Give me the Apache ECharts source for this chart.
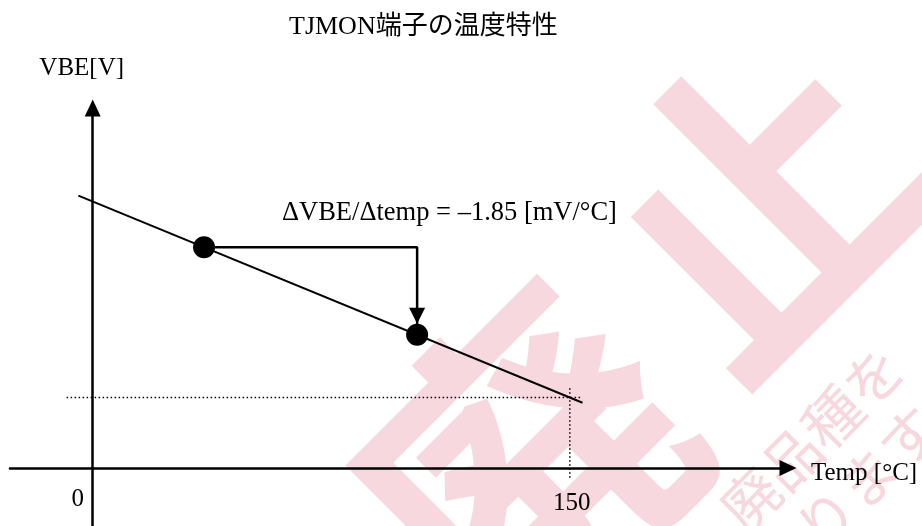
<!DOCTYPE html>
<html>
<head>
<meta charset="utf-8">
<script src="https://cdn.jsdelivr.net/npm/echarts@6/dist/echarts.min.js"></script>
<style>
  html, body { margin: 0; padding: 0; background: #fff; }
  #chart { width: 922px; height: 526px; }
</style>
</head>
<body>
<div id="chart"></div>
<script>
// Texts
const titleText = 'TJMON端子の温度特性';
const xName = 'Temp [°C]';
const yName = 'VBE[V]';
const xTickLabels = [0, 150];

// VBE temperature coefficient (mV/°C)
const slopeMvPerC = -1.85;

// VBE characteristic line (V) against temperature (°C)
const lineTemps = [-4.5, 154];
const lineVbe = [0.3858, 0.0926];

// Two sample points on the characteristic
const pointTemps = [35, 102];
const pointVbe = [0.3128, 0.1888];

// Dotted guides through the 150 °C point
const refTemp = 150;
const refVbe = 0.100;
const hGuideTemps = [-8.2, 154];
const vGuideVbe = [0.113, -0.017];

// Obsolete-product stamp
const stampChars = ['廃', '止'];
const stampLines = ['廃品種を', 'ります'];

const serif = "'Liberation Serif', 'Times New Roman', serif";
const titleFont = "'Liberation Serif', 'Noto Sans CJK JP', sans-serif";
const ink = '#000';
const stampColor = '#f8d8df';

const slopeLabel = 'ΔVBE/Δtemp = ' + (slopeMvPerC < 0 ? '–' : '') +
  Math.abs(slopeMvPerC).toFixed(2) + ' [mV/°C]';

const lineData = lineTemps.map((t, i) => [t, lineVbe[i]]);
const pointData = pointTemps.map((t, i) => [t, pointVbe[i]]);
const stepData = [
  [pointTemps[0], pointVbe[0]],
  [pointTemps[1], pointVbe[0]],
  [pointTemps[1], pointVbe[1]]
];
const hGuide = hGuideTemps.map(t => [t, refVbe]);
const vGuide = vGuideVbe.map(v => [refTemp, v]);

const chart = echarts.init(document.getElementById('chart'), null, { renderer: 'canvas' });

const plainLine = (data, style) => ({
  type: 'line',
  data: data,
  symbol: 'none',
  silent: true,
  animation: false,
  lineStyle: style,
  z: 3
});

const stampText = (text, x, y, font) => ({
  type: 'text', x: x, y: y, rotation: Math.PI / 4, z: -1, silent: true,
  style: { text: text, fill: stampColor, font: font, align: 'center', verticalAlign: 'middle' }
});

chart.setOption({
  backgroundColor: '#fff',
  animation: false,
  title: {
    text: titleText,
    left: 284,
    top: 9,
    textStyle: { fontFamily: titleFont, fontSize: 26, fontWeight: 'normal', color: ink }
  },
  grid: { left: 10, top: 108, width: 778, height: 418, containLabel: false, outerBoundsMode: 'none' },
  xAxis: {
    type: 'value',
    min: -26,
    max: 218.6,
    axisLine: {
      show: true,
      onZero: true,
      symbol: ['none', 'triangle'],
      symbolSize: [16, 17],
      lineStyle: { color: ink, width: 2.5 }
    },
    axisTick: { show: false },
    splitLine: { show: false },
    axisLabel: { show: false },
    name: xName,
    nameLocation: 'end',
    nameGap: 23,
    nameTextStyle: { fontFamily: serif, fontSize: 25, color: ink, verticalAlign: 'top', lineHeight: 10 }
  },
  yAxis: {
    type: 'value',
    min: -0.082,
    max: 0.51,
    axisLine: {
      show: true,
      onZero: true,
      symbol: ['none', 'triangle'],
      symbolSize: [16, 17],
      lineStyle: { color: ink, width: 2.5 }
    },
    axisTick: { show: false },
    splitLine: { show: false },
    axisLabel: { show: false },
    name: yName,
    nameLocation: 'end',
    nameGap: 27,
    nameTextStyle: { fontFamily: serif, fontSize: 25, color: ink, padding: [0, 22, 0, 0] }
  },
  graphic: [
    stampText(stampChars[0], 525, 465, 'bold 320px "Noto Sans CJK JP"'),
    stampText(stampChars[1], 761, 202, 'bold 310px "Noto Sans CJK JP"'),
    stampText(stampLines[0], 812, 438, '58px "Noto Sans CJK JP"'),
    stampText(stampLines[1], 868, 478, '58px "Noto Sans CJK JP"'),
    {
      type: 'text', left: 282, top: 200, z: 10, silent: true,
      style: { text: slopeLabel, fill: ink, font: '26.5px ' + serif }
    }
  ],
  series: [
    plainLine(hGuide, { color: ink, width: 1.5, type: [1.5, 2.5] }),
    plainLine(vGuide, { color: ink, width: 1.5, type: [1.5, 2.5] }),
    plainLine(lineData, { color: ink, width: 2 }),
    plainLine(stepData, { color: ink, width: 2.5 }),
    {
      type: 'scatter',
      data: [[pointTemps[1], pointVbe[1]]],
      symbol: 'triangle',
      symbolRotate: 180,
      symbolSize: [16, 16],
      symbolOffset: [0, -19],
      itemStyle: { color: ink, opacity: 1 },
      silent: true,
      animation: false,
      z: 4
    },
    {
      type: 'scatter',
      data: pointData,
      symbol: 'circle',
      symbolSize: 22,
      itemStyle: { color: ink, opacity: 1 },
      silent: true,
      animation: false,
      z: 5
    }
  ]
});

// Tick labels placed under the horizontal axis through the axis scale
const tickOffsets = [[-15, 31], [2, 35]];
const tickGraphics = xTickLabels.map((v, i) => {
  const p = chart.convertToPixel({ gridIndex: 0 }, [v, 0]);
  return {
    id: 'tick' + i,
    type: 'text',
    x: p[0] + tickOffsets[i][0],
    y: p[1] + tickOffsets[i][1],
    z: 10,
    silent: true,
    style: { text: String(v), fill: ink, font: '25px ' + serif, align: 'center', verticalAlign: 'middle' }
  };
});
chart.setOption({ graphic: tickGraphics });
</script>
</body>
</html>
